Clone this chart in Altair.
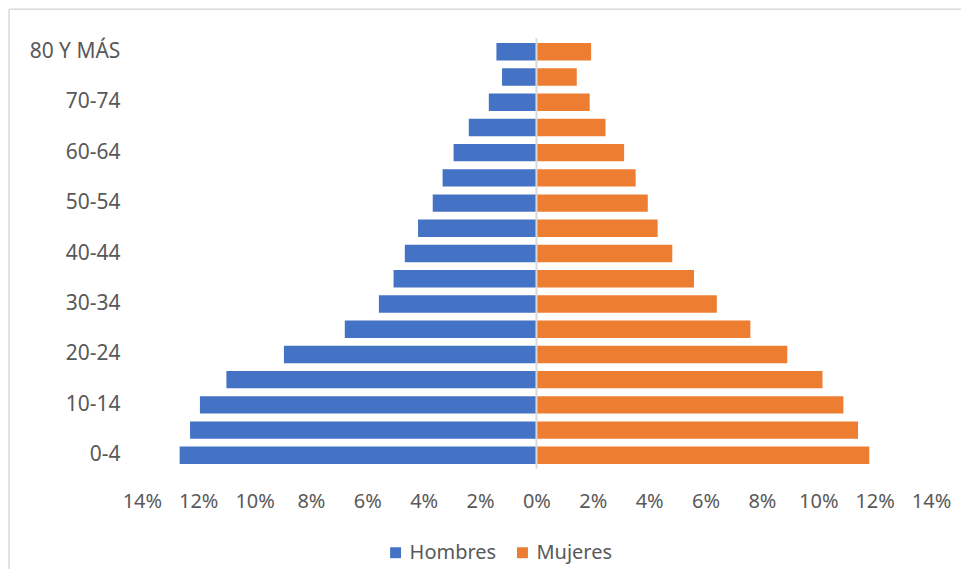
import altair as alt
import pandas as pd

ages = ["0-4", "5-9", "10-14", "15-19", "20-24", "25-29", "30-34", "35-39",
        "40-44", "45-49", "50-54", "55-59", "60-64", "65-69", "70-74", "75-79",
        "80 Y MÁS"]
hombres = [12.66, 12.29, 11.94, 11.00, 8.96, 6.80, 5.59, 5.07, 4.67, 4.20,
           3.68, 3.33, 2.94, 2.40, 1.69, 1.22, 1.42]
mujeres = [11.81, 11.41, 10.89, 10.15, 8.90, 7.59, 6.40, 5.59, 4.82, 4.30,
           3.95, 3.52, 3.11, 2.45, 1.89, 1.43, 1.94]
shown_labels = ["0-4", "10-14", "20-24", "30-34", "40-44", "50-54", "60-64",
                "70-74", "80 Y MÁS"]
x_ticks = [-0.14, -0.12, -0.10, -0.08, -0.06, -0.04, -0.02, 0, 0.02, 0.04,
           0.06, 0.08, 0.10, 0.12, 0.14]
series = ["Hombres", "Mujeres"]
colors = ["#4472C4", "#ED7D31"]

rows = []
for a, h, m in zip(ages, hombres, mujeres):
    rows.append({"edad": a, "sexo": "Hombres", "valor": -h / 100})
    rows.append({"edad": a, "sexo": "Mujeres", "valor": m / 100})
df = pd.DataFrame(rows)

FONT = "Noto Sans"
TXT = "#595959"
W, H = 790, 431

y_enc = alt.Y("edad:N", sort=list(reversed(ages)), title=None,
              scale=alt.Scale(paddingInner=0.31, paddingOuter=0.19),
              axis=alt.Axis(values=shown_labels, ticks=False, domain=False,
                            labelPadding=22, labelFontSize=21, labelFont=FONT,
                            labelColor=TXT, grid=False))

bars = alt.Chart(df).mark_bar().encode(
    x=alt.X("valor:Q", title=None,
            scale=alt.Scale(domain=[-0.14, 0.14], nice=False),
            axis=alt.Axis(values=x_ticks, labelExpr="format(abs(datum.value), '.0%')",
                          ticks=False, domain=False, grid=False, labelPadding=23,
                          labelOverlap=False, labelFlush=False,
                          labelFontSize=20, labelFont=FONT, labelColor=TXT)),
    y=y_enc,
    color=alt.Color("sexo:N", title=None,
                    scale=alt.Scale(domain=series, range=colors),
                    legend=alt.Legend(orient="none", direction="horizontal",
                                      legendX=244, legendY=505,
                                      symbolType="square", symbolSize=120,
                                      symbolStrokeWidth=0, labelFontSize=20,
                                      labelFont=FONT, labelColor=TXT,
                                      labelOffset=4, columnPadding=16)),
)

zero = alt.Chart(pd.DataFrame({"v": [0]})).mark_rule(
    color="#d9d9d9", strokeWidth=2).encode(x="v:Q")

frame_df = pd.DataFrame({"k": [0]})
frame_left = alt.Chart(frame_df).mark_rule(
    color="#d9d9d9", strokeWidth=1.5).encode(
    x=alt.value(-133), y=alt.value(-29), y2=alt.value(H + 200))
frame_top = alt.Chart(frame_df).mark_rule(
    color="#d9d9d9", strokeWidth=1.5).encode(
    y=alt.value(-29), x=alt.value(-133), x2=alt.value(W + 200))

chart = alt.layer(frame_left, frame_top, bars, zero).properties(
    width=W, height=H,
    autosize=alt.AutoSizeParams(type="none"),
    padding={"left": 134, "top": 30, "right": 30, "bottom": 100},
).configure(background="white").configure_view(stroke=None, strokeWidth=0)

chart.save("out.html", embed_options={"renderer": "svg", "actions": False})
